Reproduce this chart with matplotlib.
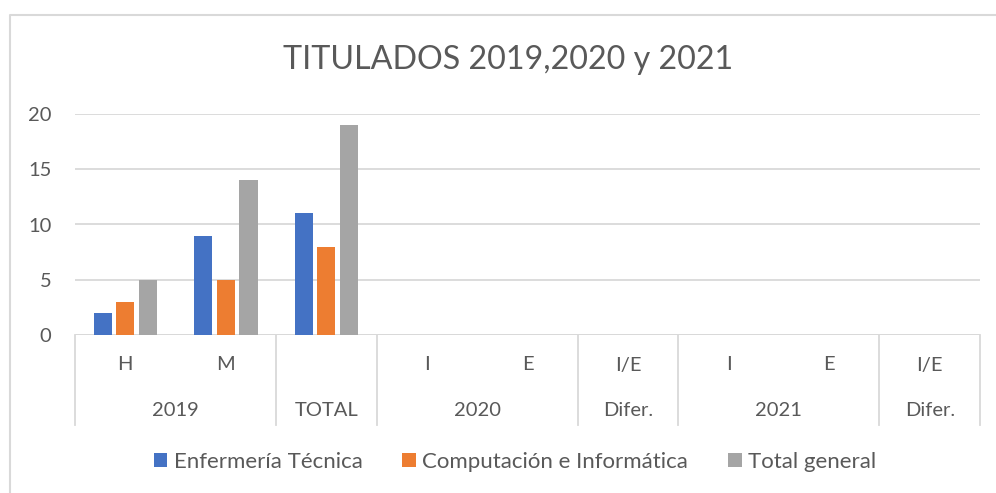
import matplotlib
matplotlib.use("Agg")
import matplotlib.pyplot as plt
import matplotlib.transforms as mtransforms
from matplotlib.patches import Patch
from matplotlib.lines import Line2D
import numpy as np

plt.rcParams['font.family'] = ['Lato', 'DejaVu Sans']

level1 = ["H", "M", "", "I", "E", "I/E", "I", "E", "I/E"]
groups = ["2019", "TOTAL", "2020", "Difer.", "2021", "Difer."]
group_sizes = [2, 1, 2, 1, 2, 1]
series_names = ["Enfermería Técnica", "Computación e Informática", "Total general"]
enfermeria = [2, 9, 11, 0, 0, 0, 0, 0, 0]
computacion = [3, 5, 8, 0, 0, 0, 0, 0, 0]
total = [5, 14, 19, 0, 0, 0, 0, 0, 0]
title = "TITULADOS 2019,2020 y 2021"

colors = ["#4472C4", "#ED7D31", "#A5A5A5"]
text_color = "#595959"
grid_color = "#D9D9D9"

fig = plt.figure(figsize=(9.96, 4.93), dpi=100)
ax = fig.add_axes([75/996, 1-335/493, (980-75)/996, (335-114)/493])

x = np.arange(len(level1))
width = 0.18
offsets = [-0.225, 0.0, 0.225]
for vals, off, c, name in zip([enfermeria, computacion, total], offsets, colors, series_names):
    ax.bar(x + off, vals, width=width, color=c, label=name, linewidth=0, zorder=3)

ax.set_xlim(-0.5, len(level1) - 0.5)
ax.set_ylim(0, 20)
ax.set_yticks([0, 5, 10, 15, 20])
ax.tick_params(axis='y', length=0, labelsize=14.5, labelcolor=text_color, pad=17)
ax.set_xticks([])
for s in ax.spines.values():
    s.set_visible(False)
ax.grid(axis='y', color=grid_color, linewidth=1.3, zorder=0)
ax.axhline(0, color=grid_color, linewidth=1.3, zorder=1)

trans = mtransforms.blended_transform_factory(ax.transData, ax.transAxes)
row1 = -30/221
row2 = -75/221
line_bottom = -90/221
for xi, lab in zip(x, level1):
    ax.text(xi, row1, lab, transform=trans, ha='center', va='center',
            fontsize=14.5, color=text_color, clip_on=False)

bounds = [-0.5]
pos = -0.5
for g, n in zip(groups, group_sizes):
    center = pos + n / 2
    ax.text(center, row2, g, transform=trans, ha='center', va='center',
            fontsize=14.5, color=text_color, clip_on=False)
    pos += n
    bounds.append(pos)
for b in bounds:
    ax.add_line(Line2D([b, b], [0, line_bottom], transform=trans, color=grid_color,
                       linewidth=1.3, clip_on=False))

fig.text(508/996, 1-60/493, title, fontsize=23.2, color=text_color, ha='center', va='center')

handles = [Patch(facecolor=c, edgecolor='none') for c in colors]
fig.legend(handles, series_names, loc='center', bbox_to_anchor=(515/996, 1-462/493),
           ncol=3, frameon=False, fontsize=16, labelcolor=text_color,
           handlelength=0.6, handleheight=0.6, handletextpad=0.3, columnspacing=1.8)

# chart border (partial, as in the screenshot)
fig.add_artist(Line2D([10/996, 10/996, 1.0], [0.0, 1-15/493, 1-15/493],
                      transform=fig.transFigure, color=grid_color, linewidth=1.5))

fig.savefig("out.png", dpi=100, facecolor="white")
